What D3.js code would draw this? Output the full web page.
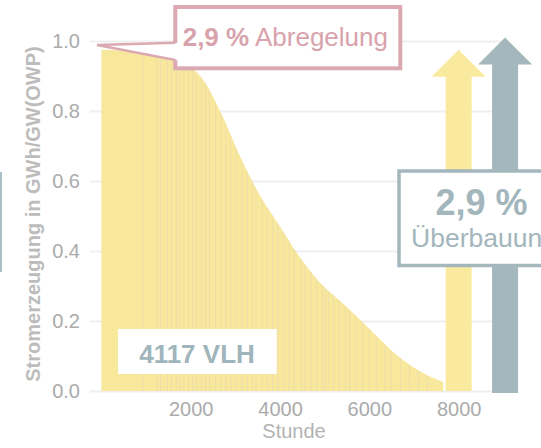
<!DOCTYPE html>
<html><head><meta charset="utf-8">
<script src="https://cdn.jsdelivr.net/npm/d3@7"></script>
<style>
html,body{margin:0;padding:0;background:#fff;}
svg{display:block;font-family:"Liberation Sans",Arial,sans-serif;}
</style></head>
<body><svg id="c" width="541" height="448"></svg>
<script>
// Duration curve: hours (sorted) and output in GWh/GW(OWP)
const hours  = [0, 500, 1000, 1500, 2000, 2300, 2658, 3106, 3500, 4000, 4400, 4822, 5494, 5942, 6687, 7286, 7657];
const values = [0.975, 0.972, 0.963, 0.948, 0.925, 0.885, 0.80, 0.67, 0.57, 0.47, 0.39, 0.32, 0.24, 0.185, 0.095, 0.046, 0.026];
// hours drawn with a slightly different tint (visible stripes)
const stripeHours = [930, 1250, 1330, 1480, 1570, 1680, 1760, 1850, 1950, 2050, 2130, 2240, 2330, 2420, 2560, 2680, 2790, 2900, 3010, 3150, 3270, 3380, 3460, 3600, 3720, 3840, 3950, 4080, 4200, 4320, 4480, 4560, 4700, 4820, 4950, 5010, 5080, 5200, 5330, 5460, 5560, 5700, 5850, 6000, 6150, 6350, 6500, 6700, 6900, 7100, 7300];
const xTicks = [2000, 4000, 6000, 8000];
const yTicks = [0, 0.2, 0.4, 0.6, 0.8, 1.0];
// arrows: position (hour) and top value
const arrowHours = [8000, 9040];
const arrowTops  = [0.975, 1.01];
const arrowColors = ["#f9ea9f", "#a3b7bd"];
const vlhLabel = "4117 VLH";
const curtailLabel = ["2,9 %", " Abregelung"];
const overbuildLabel = ["2,9 %", "Überbauung"];

const svg = d3.select("#c");
const x = d3.scaleLinear().domain([0, 9000]).range([101.4, 503.3]);
const y = d3.scaleLinear().domain([0, 1]).range([391, 41]);

// y axis with gridlines
const yAx = svg.append("g").attr("transform", "translate(90,0)")
  .call(d3.axisLeft(y).tickValues(yTicks).tickFormat(d3.format(".1f")).tickSize(-(503.3 - 90)).tickPadding(10));
yAx.select(".domain").remove();
yAx.selectAll(".tick line").attr("stroke", "#efefef").attr("stroke-width", 2);
yAx.selectAll(".tick text").attr("fill", "#ababab").attr("font-size", 20).attr("font-family", "Liberation Sans, Arial, sans-serif");

// x axis labels
const xAx = svg.append("g").attr("transform", "translate(0,391)")
  .call(d3.axisBottom(x).tickValues(xTicks).tickFormat(d3.format("d")).tickSize(0).tickPadding(11));
xAx.select(".domain").remove();
xAx.selectAll(".tick text").attr("fill", "#ababab").attr("font-size", 20).attr("font-family", "Liberation Sans, Arial, sans-serif");

// duration curve area
const pts = hours.map((h, i) => [h, values[i]]);
const area = d3.area().x(d => x(d[0])).y0(y(0)).y1(d => y(d[1])).curve(d3.curveMonotoneX);
svg.append("defs").append("clipPath").attr("id", "clipA")
  .append("path").attr("d", area(pts));
svg.append("path").attr("d", area(pts)).attr("fill", "#f7e89c");
svg.append("g").attr("clip-path", "url(#clipA)")
  .selectAll("line").data(stripeHours).join("line")
  .attr("x1", d => x(d)).attr("x2", d => x(d))
  .attr("y1", y(1.05)).attr("y2", y(0))
  .attr("stroke", "#e9cfb4").attr("stroke-width", 1).attr("opacity", 0.5);

// arrows
const shaftHW = 13, headHW = 27, headH = 27;
arrowHours.forEach((h, i) => {
  const cx = x(h), top = y(arrowTops[i]), bot = y(0) + (i === 1 ? 2 : 0);
  const p = [[cx, top], [cx + headHW, top + headH], [cx + shaftHW, top + headH], [cx + shaftHW, bot],
             [cx - shaftHW, bot], [cx - shaftHW, top + headH], [cx - headHW, top + headH]];
  svg.append("polygon").attr("points", p.map(d => d.join(",")).join(" ")).attr("fill", arrowColors[i]);
});

// left clipped line (remnant)
svg.append("rect").attr("x", 0).attr("y", 172).attr("width", 2).attr("height", 100).attr("fill", "#a9bec5");

// Pink callout
const pink = "#dba9b1";
svg.append("rect").attr("x", 175.3).attr("y", 7).attr("width", 225).attr("height", 61.3)
  .attr("fill", "#fff").attr("stroke", pink).attr("stroke-width", 4);
svg.append("polygon").attr("points", "97,45 178,43 178,60").attr("fill", "#fff");
svg.append("polyline").attr("points", "175.3,42.7 97,45 175.3,60")
  .attr("fill", "none").attr("stroke", pink).attr("stroke-width", 2.6);
const pt = svg.append("text").attr("x", 182.7).attr("y", 46).attr("font-size", 26).attr("fill", "#d8a3ac");
pt.append("tspan").attr("font-weight", "bold").text(curtailLabel[0]);
pt.append("tspan").text(curtailLabel[1]);

// Blue box
const blue = "#a3b7bd";
svg.append("rect").attr("x", 399).attr("y", 171).attr("width", 180).attr("height", 94.5)
  .attr("fill", "#fff").attr("stroke", blue).attr("stroke-width", 3.5);
svg.append("text").attr("x", 481.5).attr("y", 215).attr("text-anchor", "middle")
  .attr("font-size", 36).attr("font-weight", "bold").attr("fill", "#a2b6bc").text(overbuildLabel[0]);
svg.append("text").attr("x", 484).attr("y", 247).attr("text-anchor", "middle")
  .attr("font-size", 26.5).attr("fill", "#a2b6bc").text(overbuildLabel[1]);

// VLH box
svg.append("rect").attr("x", 118).attr("y", 329).attr("width", 158.7).attr("height", 45).attr("fill", "#fff");
svg.append("text").attr("x", 197).attr("y", 362.7).attr("text-anchor", "middle")
  .attr("font-size", 26).attr("font-weight", "bold").attr("fill", "#a0b4bb").text(vlhLabel);

// axis titles
svg.append("text").attr("transform", "translate(39.5,214) rotate(-90)").attr("text-anchor", "middle")
  .attr("font-size", 20).attr("font-weight", "bold").attr("fill", "#bcbcbc").text("Stromerzeugung in GWh/GW(OWP)");
svg.append("text").attr("x", 294).attr("y", 438).attr("text-anchor", "middle")
  .attr("font-size", 20).attr("fill", "#b3b3b3").text("Stunde");
</script></body></html>
